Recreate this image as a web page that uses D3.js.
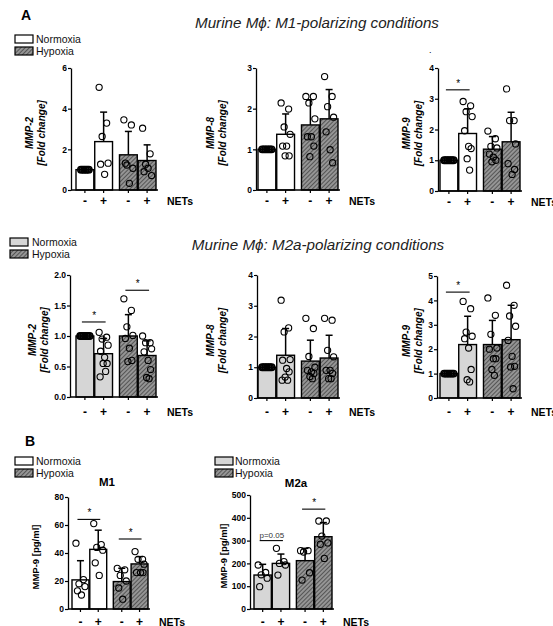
<!DOCTYPE html>
<html>
<head>
<meta charset="utf-8">
<script src="https://cdn.jsdelivr.net/npm/d3@7"></script>
<style>
  body { margin: 0; background: #fff; }
  svg { display: block; font-family: "Liberation Sans", Arial, sans-serif; }
</style>
</head>
<body>
<svg id="fig" width="553" height="626"></svg>
<script>
const groups = ['Normoxia', 'Hypoxia'];
const nets = ['-', '+'];

// panel A, M1-polarizing (fold change)
const m1Mmp2Mean = [1.0, 2.38, 1.73, 1.45];
const m1Mmp2Sd = [0, 1.45, 1.15, 0.77];
const m1Mmp2Dots = [[1, 1, 1, 1, 1, 1], [5.05, 3.29, 2.63, 1.32, 1.27, 0.77], [3.45, 3.2, 1.23, 1.07, 1.32, 0.33], [3.04, 1.78, 1.27, 0.71, 0.9, 1.07]];
const m1Mmp8Mean = [1.0, 1.37, 1.60, 1.75];
const m1Mmp8Sd = [0, 0.50, 0.62, 0.72];
const m1Mmp8Dots = [[1, 1, 1, 1, 1, 1, 1], [2.14, 1.99, 1.55, 1.37, 1.08, 1.08, 0.84, 0.84], [2.3, 2.3, 2.14, 1.75, 1.31, 1.31, 1.08, 0.82], [2.79, 2.3, 2.05, 1.79, 1.43, 0.99, 0.67]];
const m1Mmp9Mean = [1.0, 1.87, 1.36, 1.60];
const m1Mmp9Sd = [0, 0.80, 0.41, 0.96];
const m1Mmp9Dots = [[1, 1, 1, 1, 1, 1, 1], [2.91, 2.77, 2.58, 2.42, 1.96, 1.45, 1.38, 1.05, 0.68], [1.95, 1.7, 1.45, 1.4, 1.2, 1.1, 1.0, 0.95], [3.32, 2.29, 2.29, 1.53, 0.89, 0.54, 0.7]];

// panel A, M2a-polarizing (fold change)
const m2Mmp2Mean = [1.0, 0.71, 1.0, 0.68];
const m2Mmp2Sd = [0, 0.25, 0.35, 0.24];
const m2Mmp2Dots = [[1, 1, 1, 1, 1, 1, 1], [1.06, 0.98, 0.95, 0.85, 0.75, 0.65, 0.55, 0.55, 0.42, 0.33], [1.61, 1.42, 1.15, 1.01, 0.96, 0.8, 0.6, 0.58], [1.0, 0.89, 0.89, 0.79, 0.74, 0.6, 0.45, 0.32, 0.3]];
const m2Mmp8Mean = [1.0, 1.39, 1.2, 1.30];
const m2Mmp8Sd = [0, 0.87, 0.68, 0.74];
const m2Mmp8Dots = [[1, 1, 1, 1, 1, 1, 1], [3.18, 2.28, 2.15, 1.25, 1.23, 0.96, 0.85, 0.68, 0.58, 0.58], [2.59, 2.26, 1.35, 1.0, 0.9, 0.85, 0.8, 0.7, 0.63], [2.59, 2.53, 1.55, 1.34, 0.9, 0.9, 0.8, 0.63, 0.63]];
const m2Mmp9Mean = [1.0, 2.19, 2.19, 2.39];
const m2Mmp9Sd = [0, 1.16, 0.99, 1.41];
const m2Mmp9Dots = [[1, 1, 1, 1, 1, 1, 1], [3.96, 3.66, 2.7, 2.53, 2.43, 2.05, 1.17, 0.75, 0.66], [4.1, 3.39, 2.61, 2.05, 2.0, 1.61, 1.61, 1.17, 0.93], [4.62, 3.8, 3.36, 2.94, 2.36, 1.71, 1.3, 1.27, 0.38]];

// panel B, MMP-9 protein (pg/ml)
const bM1Mean = [20.8, 42.6, 19.6, 32.2];
const bM1Sd = [13.7, 13.7, 9.5, 5.2];
const bM1Dots = [[47, 21, 18, 16, 13, 10], [61, 46, 44, 42, 33, 24], [29, 28, 24, 20, 15, 7], [41, 35.5, 35.5, 32, 26, 26, 26]];
const bM2Mean = [149, 200, 212, 317];
const bM2Sd = [47, 41, 54, 62];
const bM2Dots = [[193, 160, 150, 135, 98], [266, 208, 200, 193, 149], [256, 256, 250, 159, 127], [386, 386, 320, 290, 284, 222]];

// significance marks: [from bar, to bar, height, text]
const m1Mmp9Sig = [[0, 1, 3.29, '*']];
const m2Mmp2Sig = [[0, 1, 1.23, '*'], [2, 3, 1.75, '*']];
const m2Mmp9Sig = [[0, 1, 4.34, '*']];
const bM1Sig = [[0, 1, 64, '*'], [2, 3, 50, '*']];
const bM2Sig = [[0, 1, 300, 'p=0.05'], [2, 3, 438, '*']];

const svg = d3.select('#fig');
const defs = svg.append('defs');
const hatch = defs.append('pattern')
  .attr('id', 'hatch')
  .attr('patternUnits', 'userSpaceOnUse')
  .attr('width', 3).attr('height', 3)
  .attr('patternTransform', 'rotate(45)');
hatch.append('rect').attr('width', 3).attr('height', 3).attr('fill', '#959595');
hatch.append('line').attr('x1', 0).attr('y1', 0).attr('x2', 0).attr('y2', 3)
  .attr('stroke', '#454545').attr('stroke-width', 1.6);

const hypFill = 'url(#hatch)';

function drawChart(c) {
  const g = svg.append('g');
  const y = d3.scaleLinear().domain([0, c.max]).range([c.y0, c.yTop]);
  const xg = d3.scaleBand().domain(groups).range([c.barX, c.barX + c.len]).paddingInner(0.16);
  const xi = d3.scaleBand().domain(nets).range([0, xg.bandwidth()]).paddingInner(0.05);
  const conds = groups.flatMap(gr => nets.map(n => ({ g: gr, n })));
  const left = i => xg(conds[i].g) + xi(conds[i].n);
  const cx = i => left(i) + xi.bandwidth() / 2;
  const fills = [c.normFill, hypFill];

  // bars
  g.append('g').selectAll('rect')
    .data(c.mean)
    .join('rect')
    .attr('x', (d, i) => left(i))
    .attr('y', d => y(d))
    .attr('width', xi.bandwidth())
    .attr('height', d => c.y0 - y(d))
    .attr('fill', (d, i) => fills[Math.floor(i / 2)])
    .attr('stroke', '#000')
    .attr('stroke-width', 1.4);

  // error bars (upper only)
  const err = g.append('g').attr('stroke', '#000').attr('stroke-width', 1.5);
  c.mean.forEach((m, i) => {
    if (!c.sd[i]) return;
    err.append('line').attr('x1', cx(i)).attr('x2', cx(i)).attr('y1', y(m)).attr('y2', y(m + c.sd[i]));
    err.append('line').attr('x1', cx(i) - 3.5).attr('x2', cx(i) + 3.5).attr('y1', y(m + c.sd[i])).attr('y2', y(m + c.sd[i]));
  });

  // dots
  const jitter = [-4.5, 3, -1.5, 4.5, -3, 1, 3.5, -0.5, 2, -3.5];
  const pts = c.dots.flatMap((arr, i) => arr.map((v, k) => {
    const ctrl = arr.every(a => a === arr[0]);
    const off = ctrl ? (k - (arr.length - 1) / 2) * 1.6 : jitter[k % jitter.length];
    return { x: cx(i) + off, v, ctrl };
  }));
  g.append('g').selectAll('circle')
    .data(pts)
    .join('circle')
    .attr('cx', d => d.x)
    .attr('cy', d => y(d.v))
    .attr('r', 3.1)
    .attr('fill', 'none')
    .attr('stroke', '#000')
    .attr('stroke-width', d => d.ctrl ? 1.6 : 1.1);

  // y axis
  const ax = g.append('g')
    .attr('transform', `translate(${c.axisX},0)`)
    .call(d3.axisLeft(y).tickValues(c.ticks).tickSize(3).tickSizeOuter(0).tickFormat(c.fmt || d3.format('d')));
  ax.select('.domain').attr('stroke-width', 1.3);
  ax.selectAll('.tick line').attr('stroke-width', 1.2);
  ax.selectAll('.tick text').attr('font-size', 8.5).attr('font-weight', 'bold')
    .attr('font-family', '"Liberation Sans", Arial, sans-serif').attr('x', -4);

  // x axis line + ticks
  const xEnd = c.barX + c.len + 2;
  g.append('line').attr('x1', c.axisX).attr('x2', xEnd).attr('y1', c.y0).attr('y2', c.y0)
    .attr('stroke', '#000').attr('stroke-width', 1.3);
  g.append('g').selectAll('line')
    .data(conds)
    .join('line')
    .attr('x1', (d, i) => cx(i)).attr('x2', (d, i) => cx(i))
    .attr('y1', c.y0).attr('y2', c.y0 + 3)
    .attr('stroke', '#000').attr('stroke-width', 1.2);
  g.append('g').selectAll('text')
    .data(conds)
    .join('text')
    .attr('x', (d, i) => cx(i))
    .attr('y', c.y0 + c.labDy)
    .attr('text-anchor', 'middle')
    .attr('font-size', 12).attr('font-weight', 'bold')
    .text(d => d.n);
  g.append('text').attr('x', c.barX + c.len + 11).attr('y', c.y0 + c.labDy)
    .attr('font-size', 10.5).attr('font-weight', 'bold').text('NETs');

  // y label
  const yl = g.append('text')
    .attr('transform', `translate(${c.labX},${(c.y0 + c.yTop) / 2 + 4}) rotate(-90)`)
    .attr('text-anchor', 'middle')
    .attr('font-size', c.unit ? 9.5 : 10).attr('font-weight', 'bold')
    .attr('font-style', c.unit ? 'normal' : 'italic');
  if (c.unit) {
    yl.text(c.label);
  } else {
    yl.append('tspan').attr('x', 0).attr('dy', 0).text(c.label);
    yl.append('tspan').attr('x', 0).attr('dy', 11.5).text('[Fold change]');
  }

  // significance
  (c.sig || []).forEach(([a, b, v, t]) => {
    g.append('line').attr('x1', cx(a) - 3).attr('x2', cx(b) + 2)
      .attr('y1', y(v)).attr('y2', y(v)).attr('stroke', '#000').attr('stroke-width', 1.1);
    g.append('text').attr('x', (cx(a) + cx(b)) / 2).attr('y', y(v) - 3)
      .attr('text-anchor', 'middle')
      .attr('font-size', t === '*' ? 10 : 8)
      .attr('fill', t === '*' ? '#000' : '#333')
      .text(t);
  });

  if (c.title) {
    g.append('text').attr('x', c.title[1]).attr('y', c.title[2])
      .attr('text-anchor', 'middle').attr('font-size', 11.5).attr('font-weight', 'bold')
      .text(c.title[0]);
  }
}

function legend(x, y, tx, normFill) {
  const g = svg.append('g');
  [normFill, hypFill].forEach((f, i) => {
    g.append('rect').attr('x', x).attr('y', y + i * 12).attr('width', 18).attr('height', 8)
      .attr('fill', f).attr('stroke', '#000').attr('stroke-width', 1.2);
    g.append('text').attr('x', tx).attr('y', y + i * 12 + 8)
      .attr('font-size', 10.5).attr('fill', '#111').text(groups[i]);
  });
}

const m2Fill = '#d6d6d6';
const fold1 = d3.format('.1f');

// row 1
drawChart({ axisX: 71, barX: 76, len: 80, y0: 190, yTop: 68, max: 6, ticks: [0, 2, 4, 6], mean: m1Mmp2Mean, sd: m1Mmp2Sd, dots: m1Mmp2Dots, normFill: '#fff', labX: 33, label: 'MMP-2', labDy: 15 });
drawChart({ axisX: 256, barX: 258, len: 80, y0: 190, yTop: 68, max: 3, ticks: [0, 1, 2, 3], mean: m1Mmp8Mean, sd: m1Mmp8Sd, dots: m1Mmp8Dots, normFill: '#fff', labX: 214, label: 'MMP-8', labDy: 15 });
drawChart({ axisX: 438, barX: 440, len: 80, y0: 191, yTop: 68, max: 4, ticks: [0, 1, 2, 3, 4], mean: m1Mmp9Mean, sd: m1Mmp9Sd, dots: m1Mmp9Dots, normFill: '#fff', labX: 410, label: 'MMP-9', labDy: 15, sig: m1Mmp9Sig });

// row 2
drawChart({ axisX: 70, barX: 76, len: 80, y0: 397, yTop: 275, max: 2, ticks: [0, 0.5, 1, 1.5, 2], fmt: fold1, mean: m2Mmp2Mean, sd: m2Mmp2Sd, dots: m2Mmp2Dots, normFill: m2Fill, labX: 36, label: 'MMP-2', labDy: 19, sig: m2Mmp2Sig });
drawChart({ axisX: 257, barX: 258, len: 80, y0: 398, yTop: 275, max: 4, ticks: [0, 1, 2, 3, 4], mean: m2Mmp8Mean, sd: m2Mmp8Sd, dots: m2Mmp8Dots, normFill: m2Fill, labX: 214, label: 'MMP-8', labDy: 18 });
drawChart({ axisX: 437, barX: 440, len: 80, y0: 398, yTop: 276, max: 5, ticks: [0, 1, 2, 3, 4, 5], mean: m2Mmp9Mean, sd: m2Mmp9Sd, dots: m2Mmp9Dots, normFill: m2Fill, labX: 410, label: 'MMP-9', labDy: 18, sig: m2Mmp9Sig });

// panel B
drawChart({ axisX: 68, barX: 72, len: 76, y0: 609, yTop: 497, max: 80, ticks: [0, 20, 40, 60, 80], mean: bM1Mean, sd: bM1Sd, dots: bM1Dots, normFill: '#fff', labX: 39, label: 'MMP-9 [pg/ml]', unit: true, labDy: 16.5, sig: bM1Sig, title: ['M1', 107, 486] });
drawChart({ axisX: 250, barX: 254, len: 78, y0: 609, yTop: 495, max: 500, ticks: [0, 100, 200, 300, 400, 500], mean: bM2Mean, sd: bM2Sd, dots: bM2Dots, normFill: m2Fill, labX: 227, label: 'MMP-9 [pg/ml]', unit: true, labDy: 16.5, sig: bM2Sig, title: ['M2a', 296, 487] });

// legends
legend(15, 35, 36, '#fff');
legend(10, 238, 32, m2Fill);
legend(15, 457, 36, '#fff');
legend(215, 457, 235, m2Fill);

// headings
svg.append('text').attr('x', 21).attr('y', 20).attr('font-size', 14).attr('font-weight', 'bold').text('A');
svg.append('text').attr('x', 25).attr('y', 446).attr('font-size', 14).attr('font-weight', 'bold').text('B');
svg.append('text').attr('x', 317).attr('y', 28).attr('text-anchor', 'middle')
  .attr('font-size', 15.2).attr('font-style', 'italic').attr('fill', '#222')
  .text('Murine M\u03d5: M1-polarizing conditions');
svg.append('text').attr('x', 318).attr('y', 250).attr('text-anchor', 'middle')
  .attr('font-size', 15.2).attr('font-style', 'italic').attr('fill', '#222')
  .text('Murine M\u03d5: M2a-polarizing conditions');
svg.append('text').attr('x', 429).attr('y', 53).attr('font-size', 9).text('.');
</script>
</body>
</html>
